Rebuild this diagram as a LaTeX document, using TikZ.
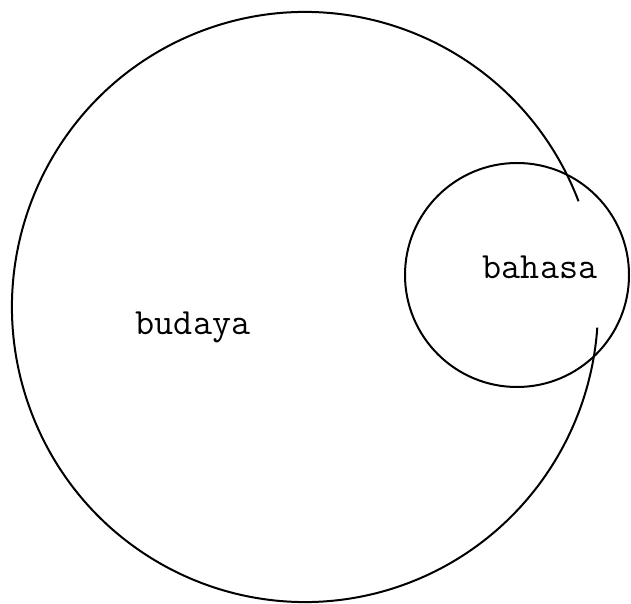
\documentclass[tikz,border=0pt]{standalone}
\usepackage{tikz}
\usetikzlibrary{positioning}

\begin{document}
\begin{tikzpicture}[
        x=1pt, y=1pt,
        ring/.style={draw, line width=2pt},
        word/.style={font=\ttfamily\fontsize{37}{40}\selectfont, inner sep=0pt}
    ]
        \useasboundingbox (0,0) rectangle (631,604);
        \coordinate (budayaC) at (305,297);
        \coordinate (bahasaC) at (517,329);

        \draw [ring] (budayaC) ++(21:293pt and 295pt) arc[start angle=21, end angle=356, x radius=293pt, y radius=295pt];
        \draw [ring] (bahasaC) circle[radius=112pt];

        \node (budaya) [word] at (193,277) {budaya};
        \node (bahasa) [word] at (540,337) {bahasa};
    \end{tikzpicture}
\end{document}
